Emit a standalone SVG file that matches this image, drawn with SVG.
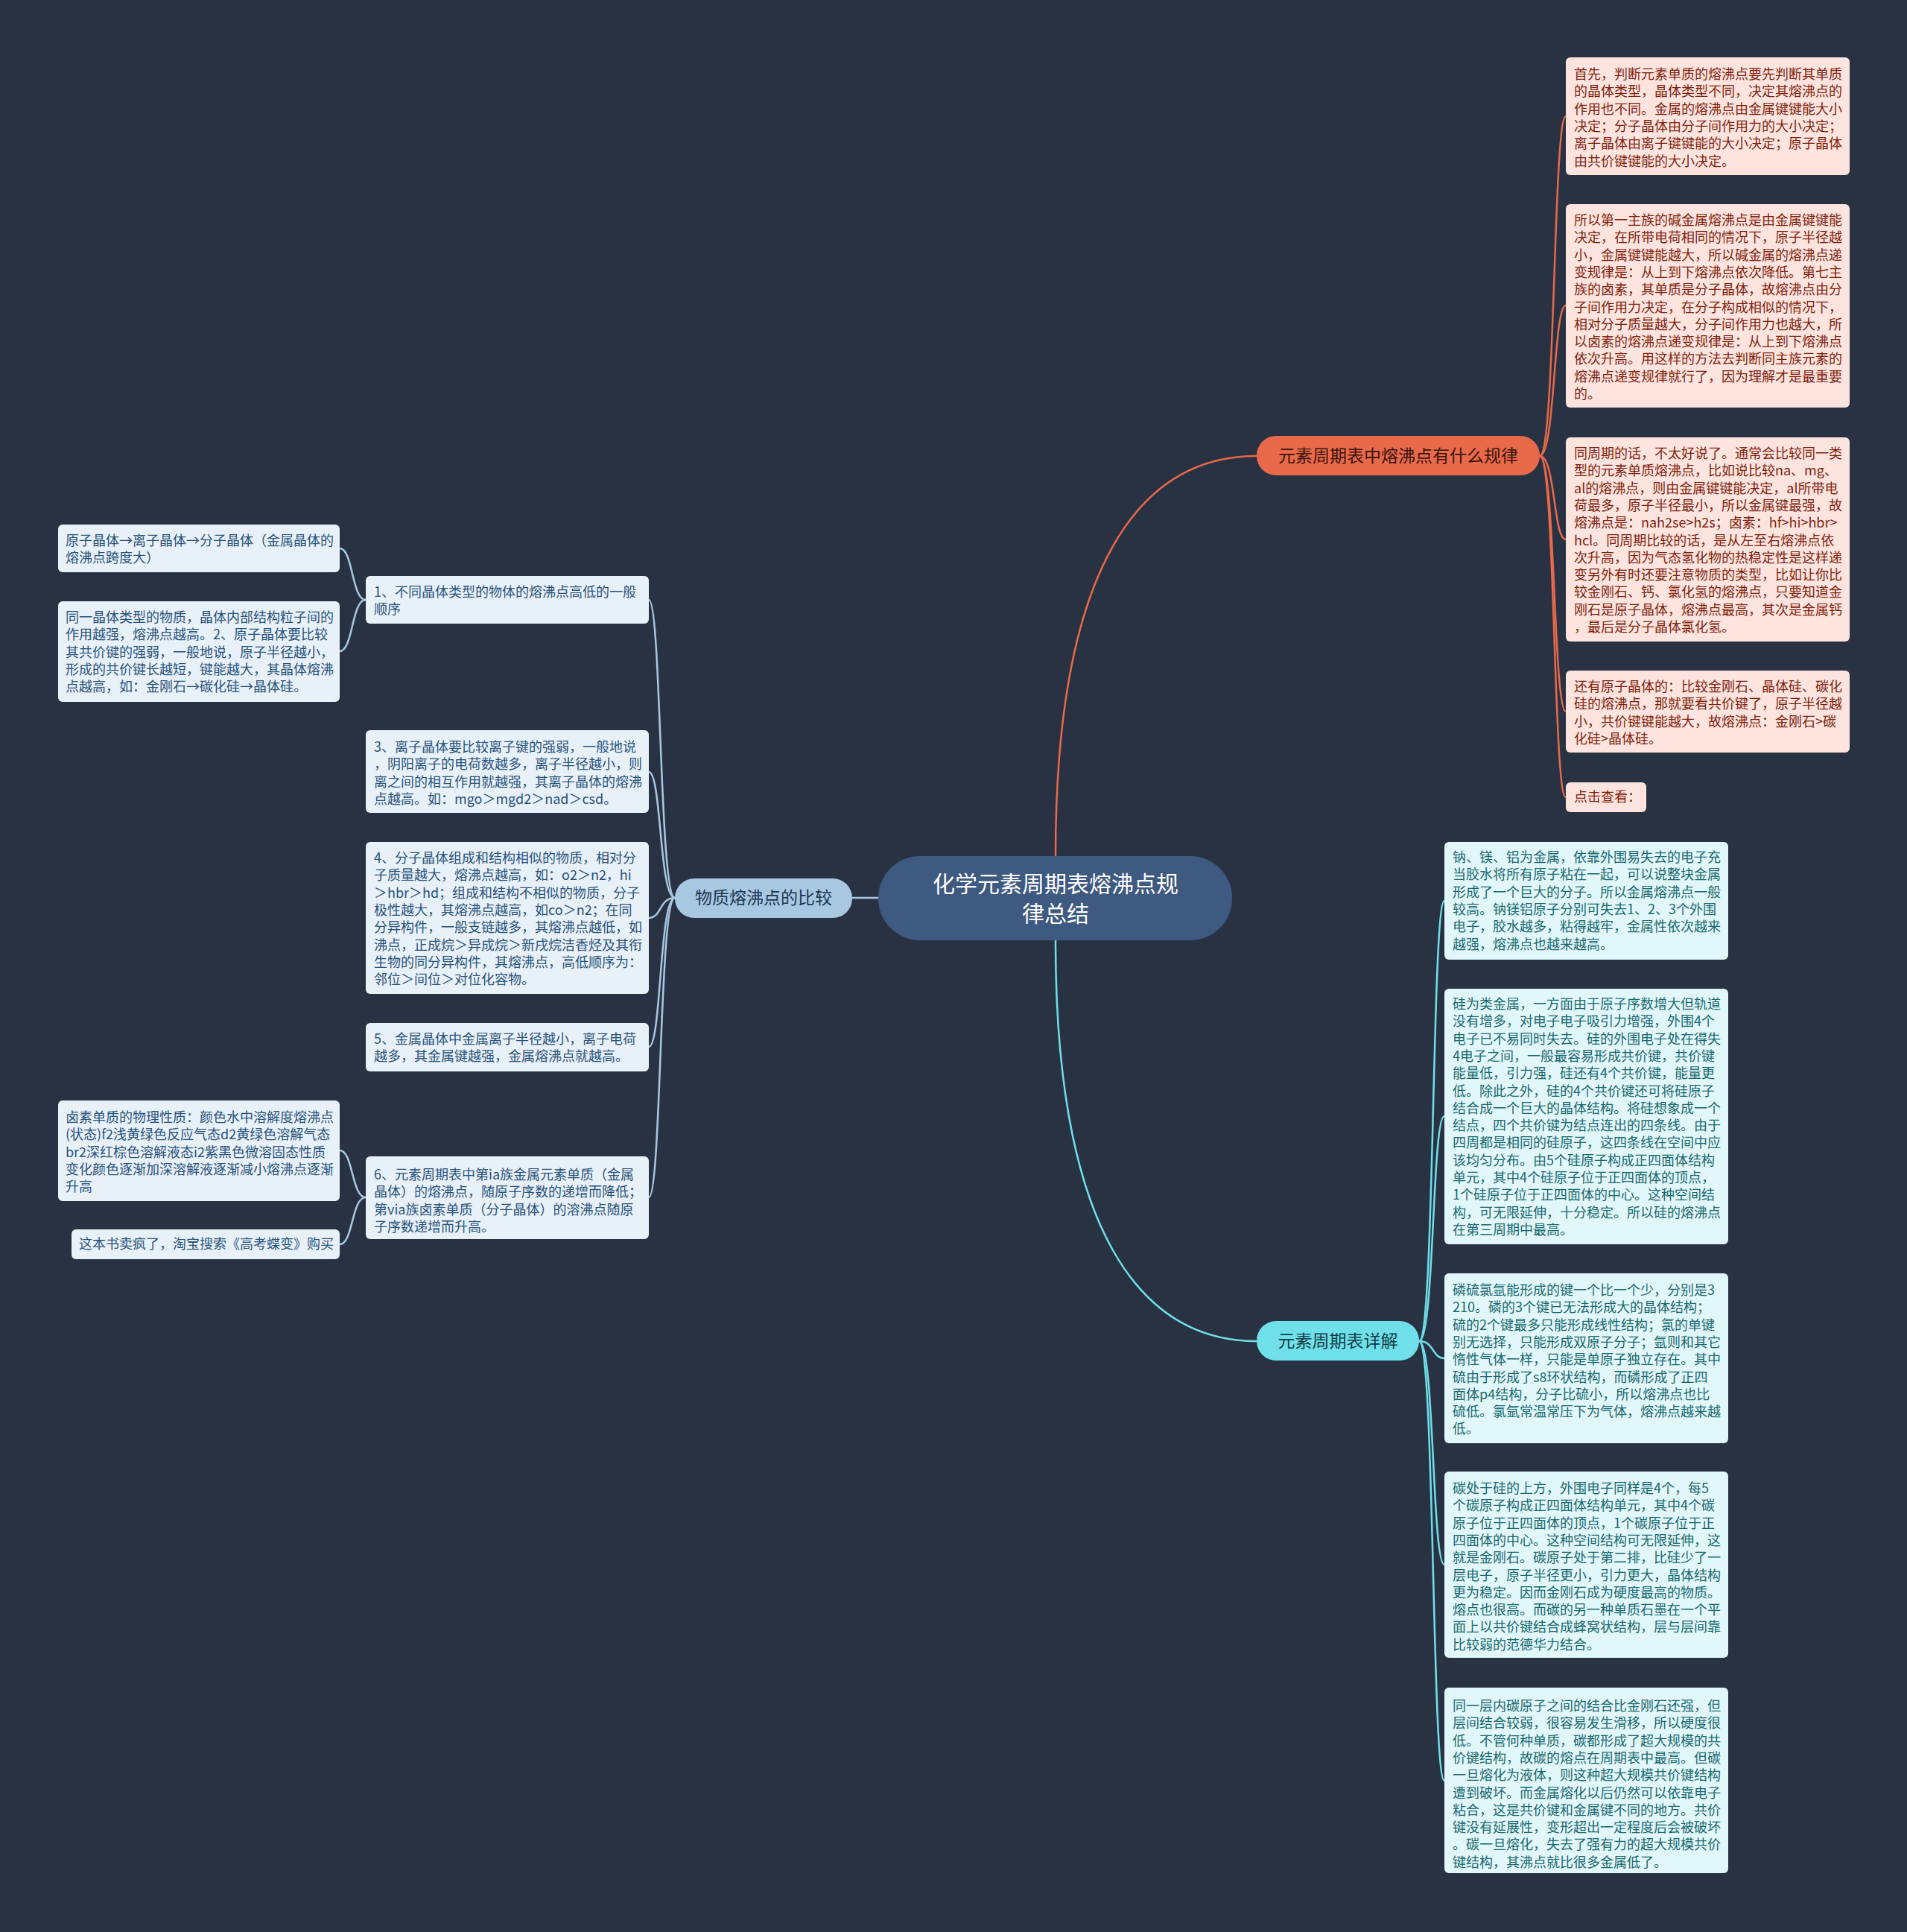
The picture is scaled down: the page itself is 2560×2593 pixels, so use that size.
<svg xmlns="http://www.w3.org/2000/svg" width="2560" height="2593" viewBox="0 0 2560 2593">
<style>
text{font-family:"Noto Sans CJK SC","Noto Sans",sans-serif;}
.t{font-size:18px;}
.or{fill:#fde4de;}
.ot{fill:#7e1f0e;}
.cy{fill:#e2f7f9;}
.ct{fill:#18686e;}
.bl{fill:#e9f1f8;}
.bt{fill:#28527a;}
.lo{fill:none;stroke:#e9694b;stroke-width:2.5;}
.lc{fill:none;stroke:#6fe0ea;stroke-width:2.5;}
.lb{fill:none;stroke:#a8c8e2;stroke-width:2.5;}
.bn{font-size:23px;}
</style>
<rect x="0" y="0" width="2560" height="2593" fill="#293242"/>
<g id="connectors">
<path class="lo" d="M1417,1149 C1417,760 1530,612 1687,612"/>
<path class="lc" d="M1417,1262 C1417,1650 1530,1800 1687,1800"/>
<path class="lb" d="M1179,1205 L1144,1205"/>
<path class="lo" d="M2067,612 C2088,612 2085,156 2102,156"/>
<path class="lo" d="M2067,612 C2088,612 2085,410 2102,410"/>
<path class="lo" d="M2067,612 C2088,612 2085,724 2102,724"/>
<path class="lo" d="M2067,612 C2088,612 2085,955 2102,955"/>
<path class="lo" d="M2067,612 C2088,612 2085,1070 2102,1070"/>
<path class="lc" d="M1905,1800 C1926,1800 1922,1209 1939,1209"/>
<path class="lc" d="M1905,1800 C1926,1800 1922,1498 1939,1498"/>
<path class="lc" d="M1905,1800 C1926,1800 1922,1823 1939,1823"/>
<path class="lc" d="M1905,1800 C1926,1800 1922,2100 1939,2100"/>
<path class="lc" d="M1905,1800 C1926,1800 1922,2390 1939,2390"/>
<path class="lb" d="M906,1205 C885,1205 888,805 871,805"/>
<path class="lb" d="M906,1205 C885,1205 888,1036 871,1036"/>
<path class="lb" d="M906,1205 C885,1205 888,1232 871,1232"/>
<path class="lb" d="M906,1205 C885,1205 888,1405 871,1405"/>
<path class="lb" d="M906,1205 C885,1205 888,1607 871,1607"/>
<path class="lb" d="M491,805 C472,805 474,736 456,736"/>
<path class="lb" d="M491,805 C472,805 474,874 456,874"/>
<path class="lb" d="M491,1607 C472,1607 474,1544 456,1544"/>
<path class="lb" d="M491,1607 C472,1607 474,1670 456,1670"/>
</g>
<g id="center">
<rect x="1179" y="1149" width="475" height="113" rx="56" fill="#3e5a80"/>
<text x="1417" y="1197" font-size="30" fill="#ffffff" text-anchor="middle">化学元素周期表熔沸点规</text>
<text x="1417" y="1237" font-size="30" fill="#ffffff" text-anchor="middle">律总结</text>
</g>
<g id="branch1">
<rect x="1687" y="585" width="380" height="53" rx="26" fill="#e9694b"/>
<text class="bn" x="1877" y="620" fill="#3a140a" text-anchor="middle">元素周期表中熔沸点有什么规律</text>
</g>
<g id="branch2">
<rect x="1687" y="1773" width="218" height="53" rx="26" fill="#6fe0ea"/>
<text class="bn" x="1796" y="1808" fill="#0f3c44" text-anchor="middle">元素周期表详解</text>
</g>
<g id="branch3">
<rect x="906" y="1179" width="238" height="53" rx="26" fill="#a8c8e2"/>
<text class="bn" x="1025" y="1213" fill="#1c3550" text-anchor="middle">物质熔沸点的比较</text>
</g>
<g id="o1">
<rect class="or" x="2102" y="77" width="381" height="158" rx="6"/>
<text class="t ot" x="2113" y="106">
<tspan x="2113" dy="0">首先，判断元素单质的熔沸点要先判断其单质</tspan>
<tspan x="2113" dy="23.3">的晶体类型，晶体类型不同，决定其熔沸点的</tspan>
<tspan x="2113" dy="23.3">作用也不同。金属的熔沸点由金属键键能大小</tspan>
<tspan x="2113" dy="23.3">决定；分子晶体由分子间作用力的大小决定；</tspan>
<tspan x="2113" dy="23.3">离子晶体由离子键键能的大小决定；原子晶体</tspan>
<tspan x="2113" dy="23.3">由共价键键能的大小决定。</tspan>
</text>
</g>
<g id="o2">
<rect class="or" x="2102" y="274" width="381" height="273" rx="6"/>
<text class="t ot" x="2113" y="302">
<tspan x="2113" dy="0">所以第一主族的碱金属熔沸点是由金属键键能</tspan>
<tspan x="2113" dy="23.3">决定，在所带电荷相同的情况下，原子半径越</tspan>
<tspan x="2113" dy="23.3">小，金属键键能越大，所以碱金属的熔沸点递</tspan>
<tspan x="2113" dy="23.3">变规律是：从上到下熔沸点依次降低。第七主</tspan>
<tspan x="2113" dy="23.3">族的卤素，其单质是分子晶体，故熔沸点由分</tspan>
<tspan x="2113" dy="23.3">子间作用力决定，在分子构成相似的情况下，</tspan>
<tspan x="2113" dy="23.3">相对分子质量越大，分子间作用力也越大，所</tspan>
<tspan x="2113" dy="23.3">以卤素的熔沸点递变规律是：从上到下熔沸点</tspan>
<tspan x="2113" dy="23.3">依次升高。用这样的方法去判断同主族元素的</tspan>
<tspan x="2113" dy="23.3">熔沸点递变规律就行了，因为理解才是最重要</tspan>
<tspan x="2113" dy="23.3">的。</tspan>
</text>
</g>
<g id="o3">
<rect class="or" x="2102" y="587" width="381" height="274" rx="6"/>
<text class="t ot" x="2113" y="615">
<tspan x="2113" dy="0">同周期的话，不太好说了。通常会比较同一类</tspan>
<tspan x="2113" dy="23.3">型的元素单质熔沸点，比如说比较na、mg、</tspan>
<tspan x="2113" dy="23.3">al的熔沸点，则由金属键键能决定，al所带电</tspan>
<tspan x="2113" dy="23.3">荷最多，原子半径最小，所以金属键最强，故</tspan>
<tspan x="2113" dy="23.3">熔沸点是：nah2se&gt;h2s；卤素：hf&gt;hi&gt;hbr&gt;</tspan>
<tspan x="2113" dy="23.3">hcl。同周期比较的话，是从左至右熔沸点依</tspan>
<tspan x="2113" dy="23.3">次升高，因为气态氢化物的热稳定性是这样递</tspan>
<tspan x="2113" dy="23.3">变另外有时还要注意物质的类型，比如让你比</tspan>
<tspan x="2113" dy="23.3">较金刚石、钙、氯化氢的熔沸点，只要知道金</tspan>
<tspan x="2113" dy="23.3">刚石是原子晶体，熔沸点最高，其次是金属钙</tspan>
<tspan x="2113" dy="23.3">，最后是分子晶体氯化氢。</tspan>
</text>
</g>
<g id="o4">
<rect class="or" x="2102" y="900" width="381" height="110" rx="6"/>
<text class="t ot" x="2113" y="928">
<tspan x="2113" dy="0">还有原子晶体的：比较金刚石、晶体硅、碳化</tspan>
<tspan x="2113" dy="23.3">硅的熔沸点，那就要看共价键了，原子半径越</tspan>
<tspan x="2113" dy="23.3">小，共价键键能越大，故熔沸点：金刚石&gt;碳</tspan>
<tspan x="2113" dy="23.3">化硅&gt;晶体硅。</tspan>
</text>
</g>
<g id="o5">
<rect class="or" x="2102" y="1050" width="108" height="40" rx="6"/>
<text class="t ot" x="2113" y="1076">点击查看：</text>
</g>
<g id="c1">
<rect class="cy" x="1939" y="1130" width="381" height="158" rx="6"/>
<text class="t ct" x="1950" y="1157">
<tspan x="1950" dy="0">钠、镁、铝为金属，依靠外围易失去的电子充</tspan>
<tspan x="1950" dy="23.3">当胶水将所有原子粘在一起，可以说整块金属</tspan>
<tspan x="1950" dy="23.3">形成了一个巨大的分子。所以金属熔沸点一般</tspan>
<tspan x="1950" dy="23.3">较高。钠镁铝原子分别可失去1、2、3个外围</tspan>
<tspan x="1950" dy="23.3">电子，胶水越多，粘得越牢，金属性依次越来</tspan>
<tspan x="1950" dy="23.3">越强，熔沸点也越来越高。</tspan>
</text>
</g>
<g id="c2">
<rect class="cy" x="1939" y="1327" width="381" height="343" rx="6"/>
<text class="t ct" x="1950" y="1354">
<tspan x="1950" dy="0">硅为类金属，一方面由于原子序数增大但轨道</tspan>
<tspan x="1950" dy="23.3">没有增多，对电子电子吸引力增强，外围4个</tspan>
<tspan x="1950" dy="23.3">电子已不易同时失去。硅的外围电子处在得失</tspan>
<tspan x="1950" dy="23.3">4电子之间，一般最容易形成共价键，共价键</tspan>
<tspan x="1950" dy="23.3">能量低，引力强，硅还有4个共价键，能量更</tspan>
<tspan x="1950" dy="23.3">低。除此之外，硅的4个共价键还可将硅原子</tspan>
<tspan x="1950" dy="23.3">结合成一个巨大的晶体结构。将硅想象成一个</tspan>
<tspan x="1950" dy="23.3">结点，四个共价键为结点连出的四条线。由于</tspan>
<tspan x="1950" dy="23.3">四周都是相同的硅原子，这四条线在空间中应</tspan>
<tspan x="1950" dy="23.3">该均匀分布。由5个硅原子构成正四面体结构</tspan>
<tspan x="1950" dy="23.3">单元，其中4个硅原子位于正四面体的顶点，</tspan>
<tspan x="1950" dy="23.3">1个硅原子位于正四面体的中心。这种空间结</tspan>
<tspan x="1950" dy="23.3">构，可无限延伸，十分稳定。所以硅的熔沸点</tspan>
<tspan x="1950" dy="23.3">在第三周期中最高。</tspan>
</text>
</g>
<g id="c3">
<rect class="cy" x="1939" y="1709" width="381" height="228" rx="6"/>
<text class="t ct" x="1950" y="1738">
<tspan x="1950" dy="0">磷硫氯氩能形成的键一个比一个少，分别是3</tspan>
<tspan x="1950" dy="23.3">210。磷的3个键已无法形成大的晶体结构；</tspan>
<tspan x="1950" dy="23.3">硫的2个键最多只能形成线性结构；氯的单键</tspan>
<tspan x="1950" dy="23.3">别无选择，只能形成双原子分子；氩则和其它</tspan>
<tspan x="1950" dy="23.3">惰性气体一样，只能是单原子独立存在。其中</tspan>
<tspan x="1950" dy="23.3">硫由于形成了s8环状结构，而磷形成了正四</tspan>
<tspan x="1950" dy="23.3">面体p4结构，分子比硫小，所以熔沸点也比</tspan>
<tspan x="1950" dy="23.3">硫低。氯氩常温常压下为气体，熔沸点越来越</tspan>
<tspan x="1950" dy="23.3">低。</tspan>
</text>
</g>
<g id="c4">
<rect class="cy" x="1939" y="1975" width="381" height="250" rx="6"/>
<text class="t ct" x="1950" y="2004">
<tspan x="1950" dy="0">碳处于硅的上方，外围电子同样是4个，每5</tspan>
<tspan x="1950" dy="23.3">个碳原子构成正四面体结构单元，其中4个碳</tspan>
<tspan x="1950" dy="23.3">原子位于正四面体的顶点，1个碳原子位于正</tspan>
<tspan x="1950" dy="23.3">四面体的中心。这种空间结构可无限延伸，这</tspan>
<tspan x="1950" dy="23.3">就是金刚石。碳原子处于第二排，比硅少了一</tspan>
<tspan x="1950" dy="23.3">层电子，原子半径更小，引力更大，晶体结构</tspan>
<tspan x="1950" dy="23.3">更为稳定。因而金刚石成为硬度最高的物质。</tspan>
<tspan x="1950" dy="23.3">熔点也很高。而碳的另一种单质石墨在一个平</tspan>
<tspan x="1950" dy="23.3">面上以共价键结合成蜂窝状结构，层与层间靠</tspan>
<tspan x="1950" dy="23.3">比较弱的范德华力结合。</tspan>
</text>
</g>
<g id="c5">
<rect class="cy" x="1939" y="2265" width="381" height="249" rx="6"/>
<text class="t ct" x="1950" y="2296">
<tspan x="1950" dy="0">同一层内碳原子之间的结合比金刚石还强，但</tspan>
<tspan x="1950" dy="23.3">层间结合较弱，很容易发生滑移，所以硬度很</tspan>
<tspan x="1950" dy="23.3">低。不管何种单质，碳都形成了超大规模的共</tspan>
<tspan x="1950" dy="23.3">价键结构，故碳的熔点在周期表中最高。但碳</tspan>
<tspan x="1950" dy="23.3">一旦熔化为液体，则这种超大规模共价键结构</tspan>
<tspan x="1950" dy="23.3">遭到破坏。而金属熔化以后仍然可以依靠电子</tspan>
<tspan x="1950" dy="23.3">粘合，这是共价键和金属键不同的地方。共价</tspan>
<tspan x="1950" dy="23.3">键没有延展性，变形超出一定程度后会被破坏</tspan>
<tspan x="1950" dy="23.3">。碳一旦熔化，失去了强有力的超大规模共价</tspan>
<tspan x="1950" dy="23.3">键结构，其沸点就比很多金属低了。</tspan>
</text>
</g>
<g id="n1">
<rect class="bl" x="491" y="773" width="380" height="64" rx="6"/>
<text class="t bt" x="502" y="801">
<tspan x="502" dy="0">1、不同晶体类型的物体的熔沸点高低的一般</tspan>
<tspan x="502" dy="23.3">顺序</tspan>
</text>
</g>
<g id="l1">
<rect class="bl" x="78" y="704" width="378" height="64" rx="6"/>
<text class="t bt" x="88" y="732">
<tspan x="88" dy="0">原子晶体→离子晶体→分子晶体（金属晶体的</tspan>
<tspan x="88" dy="23.3">熔沸点跨度大）</tspan>
</text>
</g>
<g id="l2">
<rect class="bl" x="78" y="807" width="378" height="135" rx="6"/>
<text class="t bt" x="88" y="835">
<tspan x="88" dy="0">同一晶体类型的物质，晶体内部结构粒子间的</tspan>
<tspan x="88" dy="23.3">作用越强，熔沸点越高。2、原子晶体要比较</tspan>
<tspan x="88" dy="23.3">其共价键的强弱，一般地说，原子半径越小，</tspan>
<tspan x="88" dy="23.3">形成的共价键长越短，键能越大，其晶体熔沸</tspan>
<tspan x="88" dy="23.3">点越高，如：金刚石→碳化硅→晶体硅。</tspan>
</text>
</g>
<g id="n3">
<rect class="bl" x="491" y="980" width="380" height="111" rx="6"/>
<text class="t bt" x="502" y="1009">
<tspan x="502" dy="0">3、离子晶体要比较离子键的强弱，一般地说</tspan>
<tspan x="502" dy="23.3">，阴阳离子的电荷数越多，离子半径越小，则</tspan>
<tspan x="502" dy="23.3">离之间的相互作用就越强，其离子晶体的熔沸</tspan>
<tspan x="502" dy="23.3">点越高。如：mgo＞mgd2＞nad＞csd。</tspan>
</text>
</g>
<g id="n4">
<rect class="bl" x="491" y="1130" width="380" height="204" rx="6"/>
<text class="t bt" x="502" y="1158">
<tspan x="502" dy="0">4、分子晶体组成和结构相似的物质，相对分</tspan>
<tspan x="502" dy="23.3">子质量越大，熔沸点越高，如：o2＞n2，hi</tspan>
<tspan x="502" dy="23.3">＞hbr＞hd；组成和结构不相似的物质，分子</tspan>
<tspan x="502" dy="23.3">极性越大，其熔沸点越高，如co＞n2；在同</tspan>
<tspan x="502" dy="23.3">分异构件，一般支链越多，其熔沸点越低，如</tspan>
<tspan x="502" dy="23.3">沸点，正成烷＞异成烷＞新戌烷洁香烃及其衔</tspan>
<tspan x="502" dy="23.3">生物的同分异构件，其熔沸点，高低顺序为：</tspan>
<tspan x="502" dy="23.3">邻位＞间位＞对位化容物。</tspan>
</text>
</g>
<g id="n5">
<rect class="bl" x="491" y="1373" width="380" height="65" rx="6"/>
<text class="t bt" x="502" y="1401">
<tspan x="502" dy="0">5、金属晶体中金属离子半径越小，离子电荷</tspan>
<tspan x="502" dy="23.3">越多，其金属键越强，金属熔沸点就越高。</tspan>
</text>
</g>
<g id="n6">
<rect class="bl" x="491" y="1552" width="380" height="111" rx="6"/>
<text class="t bt" x="502" y="1583">
<tspan x="502" dy="0">6、元素周期表中第ia族金属元素单质（金属</tspan>
<tspan x="502" dy="23.3">晶体）的熔沸点，随原子序数的递增而降低；</tspan>
<tspan x="502" dy="23.3">第via族卤素单质（分子晶体）的溶沸点随原</tspan>
<tspan x="502" dy="23.3">子序数递增而升高。</tspan>
</text>
</g>
<g id="l3">
<rect class="bl" x="78" y="1477" width="378" height="135" rx="6"/>
<text class="t bt" x="88" y="1506">
<tspan x="88" dy="0">卤素单质的物理性质：颜色水中溶解度熔沸点</tspan>
<tspan x="88" dy="23.3">(状态)f2浅黄绿色反应气态d2黄绿色溶解气态</tspan>
<tspan x="88" dy="23.3">br2深红棕色溶解液态i2紫黑色微溶固态性质</tspan>
<tspan x="88" dy="23.3">变化颜色逐渐加深溶解液逐渐减小熔沸点逐渐</tspan>
<tspan x="88" dy="23.3">升高</tspan>
</text>
</g>
<g id="l4">
<rect class="bl" x="96" y="1650" width="360" height="40" rx="6"/>
<text class="t bt" x="106" y="1676">这本书卖疯了，淘宝搜索《高考蝶变》购买</text>
</g>
</svg>
